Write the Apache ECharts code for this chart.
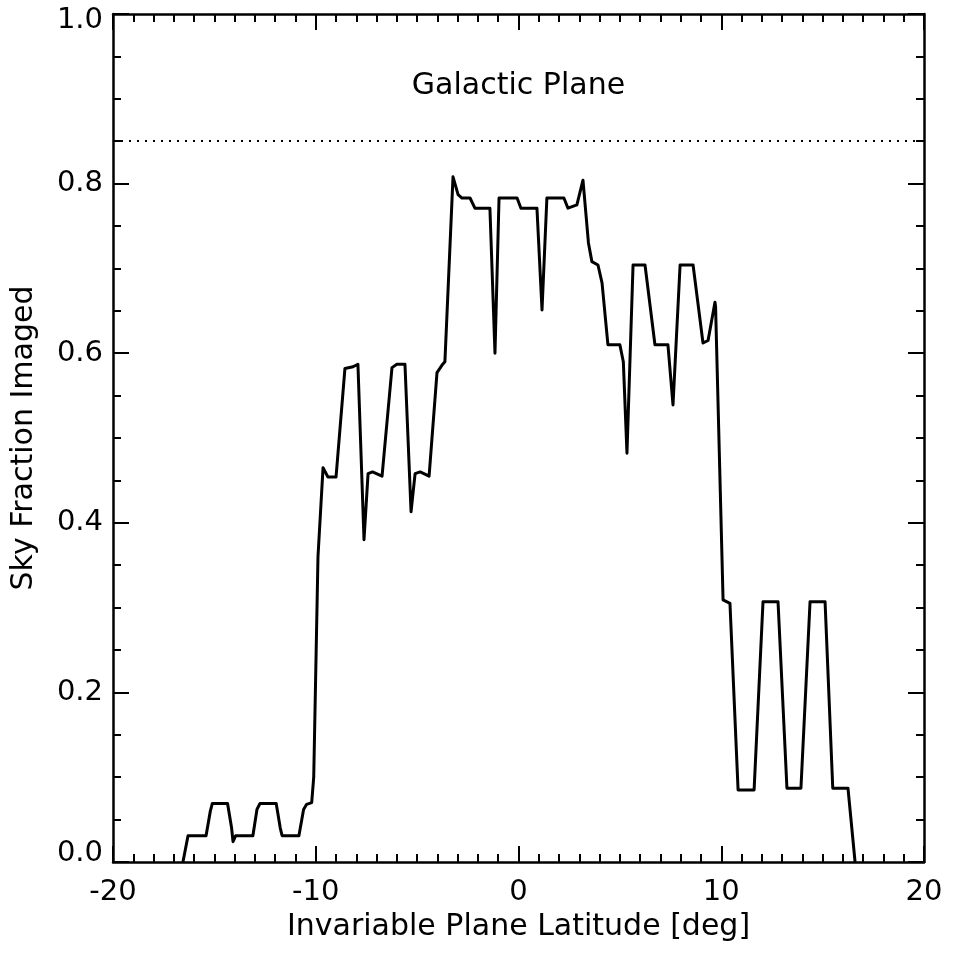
<!DOCTYPE html>
<html>
<head>
<meta charset="utf-8">
<script src="https://cdn.jsdelivr.net/npm/echarts@6/dist/echarts.min.js"></script>
<style>
  html, body { margin: 0; padding: 0; background: #fff; }
  #skyFraction { width: 955px; height: 954px; }
</style>
</head>
<body>
<div id="skyFraction"></div>
<script>
// latitude (deg) and imaged sky fraction
var lat = [
  -16.55, -16.3, -15.41, -15.2, -15.1, -14.35, -14.15, -14.08, -13.95, -13.1,
  -12.9, -12.75, -11.95, -11.75, -11.66, -10.83, -10.6, -10.45, -10.2, -10.1,
  -9.89, -9.64, -9.4, -9.0, -8.56, -8.16, -7.92, -7.62, -7.42, -7.2,
  -6.73, -6.24, -6.0, -5.6, -5.3, -5.1, -4.85, -4.41, -4.02, -3.77,
  -3.63, -3.23, -2.98, -2.79, -2.39, -2.15, -1.41, -1.16, -0.96, -0.07,
  0.12, 0.91, 1.16, 1.4, 2.24, 2.44, 2.88, 3.18, 3.45, 3.62,
  3.92, 4.12, 4.41, 5.0, 5.17, 5.35, 5.65, 6.24, 6.73, 7.37,
  7.62, 7.97, 8.61, 9.1, 9.35, 9.69, 9.72, 10.09, 10.43, 10.83,
  11.62, 12.06, 12.8, 13.24, 13.93, 14.38, 15.12, 15.5, 16.25, 16.6
];
var frac = [
  0, 0.031, 0.031, 0.06, 0.069, 0.069, 0.04, 0.024, 0.031, 0.031,
  0.062, 0.069, 0.069, 0.04, 0.031, 0.031, 0.062, 0.068, 0.07, 0.1,
  0.36, 0.465, 0.454, 0.454, 0.582, 0.584, 0.587, 0.38, 0.458, 0.46,
  0.455, 0.583, 0.587, 0.587, 0.413, 0.458, 0.46, 0.455, 0.577, 0.586,
  0.59, 0.808, 0.787, 0.783, 0.783, 0.771, 0.771, 0.60, 0.783, 0.783,
  0.771, 0.771, 0.651, 0.783, 0.783, 0.771, 0.775, 0.804, 0.73, 0.708,
  0.704, 0.683, 0.61, 0.61, 0.59, 0.482, 0.704, 0.704, 0.61, 0.61,
  0.539, 0.704, 0.704, 0.612, 0.615, 0.66, 0.655, 0.309, 0.305, 0.085,
  0.085, 0.307, 0.307, 0.087, 0.087, 0.307, 0.307, 0.087, 0.087, 0
];
var galacticLimit = 0.85;
var galacticLabel = { text: 'Galactic Plane', lat: 0, frac: 0.915 };

var font = 'DejaVu Sans';
var black = '#000';

function boxAxis(pos, min, max, interval, minorSplit, withLabels, extra) {
  var ax = {
    type: 'value',
    position: pos,
    min: min,
    max: max,
    interval: interval,
    axisLine: { show: true, onZero: false, lineStyle: { color: black, width: 2.5 } },
    axisTick: { show: true, inside: true, length: 16, lineStyle: { color: black, width: 2 } },
    minorTick: { show: true, splitNumber: minorSplit, length: 8, lineStyle: { color: black, width: 2 } },
    splitLine: { show: false },
    minorSplitLine: { show: false },
    axisLabel: { show: withLabels, color: black, fontFamily: font, fontSize: 29 }
  };
  return Object.assign(ax, extra || {});
}

var myChart = echarts.init(document.getElementById('skyFraction'));
var xBottom = boxAxis('bottom', -20, 20, 10, 10, true, {
  name: 'Invariable Plane Latitude [deg]',
  nameLocation: 'middle',
  nameGap: 48,
  nameTextStyle: { color: black, fontFamily: font, fontSize: 30 }
});
xBottom.axisLabel.margin = 16;

var yLeft = boxAxis('left', 0, 1, 0.2, 4, true, {
  name: 'Sky Fraction Imaged',
  nameLocation: 'middle',
  nameGap: 74,
  nameRotate: 90,
  nameTextStyle: { color: black, fontFamily: font, fontSize: 30 }
});
yLeft.axisLabel.margin = 10;
// IDL nudges the end labels inside the box
yLeft.axisLabel.formatter = function (v) {
  var s = v.toFixed(1);
  if (v <= 0) return '{lo|' + s + '}';
  if (v >= 1) return '{hi|' + s + '}';
  return s;
};
yLeft.axisLabel.rich = {
  lo: { fontFamily: font, fontSize: 29, color: black, padding: [0, 0, 18, 0] },
  hi: { fontFamily: font, fontSize: 29, color: black, padding: [12, 0, 0, 0] }
};

myChart.setOption({
  backgroundColor: '#fff',
  animation: false,
  grid: { left: 113, right: 31, top: 14, bottom: 92 },
  xAxis: [xBottom, boxAxis('top', -20, 20, 10, 10, false)],
  yAxis: [yLeft, boxAxis('right', 0, 1, 0.2, 4, false)],
  series: [
    {
      type: 'line',
      xAxisIndex: 0,
      yAxisIndex: 0,
      data: lat.map(function (v, i) { return [v, frac[i]]; }),
      showSymbol: false,
      symbol: 'none',
      lineStyle: { color: black, width: 3, join: 'round' },
      markLine: {
        silent: true,
        symbol: 'none',
        label: { show: false },
        lineStyle: { color: black, width: 2, type: [2, 6] },
        data: [{ yAxis: galacticLimit }]
      },
      markPoint: {
        silent: true,
        symbol: 'circle',
        symbolSize: 0,
        label: {
          show: true,
          position: 'inside',
          formatter: galacticLabel.text,
          color: black,
          fontFamily: font,
          fontSize: 30
        },
        data: [{ coord: [galacticLabel.lat, galacticLabel.frac] }]
      }
    }
  ]
});
</script>
</body>
</html>
